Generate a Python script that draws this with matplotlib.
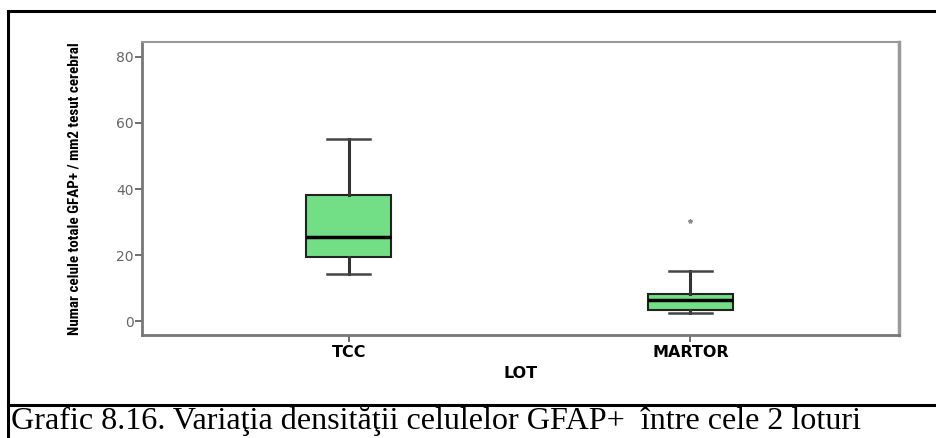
import matplotlib
matplotlib.use("Agg")
import matplotlib.pyplot as plt
from matplotlib.lines import Line2D

# Box statistics
groups = ["TCC", "MARTOR"]
medians = [25.5, 6.4]
q1 = [19.4, 3.3]
q3 = [38.2, 8.2]
whis_lo = [14.2, 2.4]
whis_hi = [55.0, 15.2]
outliers = [[], [30.3]]

y_ticks = [0, 20, 40, 60, 80]
box_color = "#72de85"
narrow = ["Roboto Condensed", "PT Sans Narrow", "Archivo Narrow", "DejaVu Sans"]

stats = []
for i, name in enumerate(groups):
    stats.append({
        "label": name,
        "med": medians[i],
        "q1": q1[i],
        "q3": q3[i],
        "whislo": whis_lo[i],
        "whishi": whis_hi[i],
        "fliers": outliers[i],
    })

fig = plt.figure(figsize=(9.37, 4.38), dpi=100)
ax = fig.add_axes([0.1515, 0.2352, 0.8079, 0.6688])

ax.bxp(stats, positions=[1, 2], widths=0.25, patch_artist=True,
       boxprops=dict(facecolor=box_color, edgecolor="#222222", linewidth=1.5),
       medianprops=dict(color="black", linewidth=2.5),
       whiskerprops=dict(color="#333333", linewidth=2.2),
       capprops=dict(color="#444444", linewidth=1.8),
       flierprops=dict(marker="*", markersize=3, markerfacecolor="#888888",
                       markeredgecolor="#888888"))

ax.set_xlim(0.395, 2.61)
ax.set_ylim(-4.2, 84.5)
ax.set_yticks(y_ticks)
ax.set_xticks([1, 2])
ax.set_xticklabels(groups, fontsize=11.5, fontweight="bold", family="DejaVu Sans")
for lab in ax.get_yticklabels():
    lab.set_fontsize(10)
    lab.set_color("#666666")
    lab.set_family("DejaVu Sans")
ax.tick_params(axis="both", direction="out", length=5, width=1.2, color="#555555")
ax.tick_params(axis="y", pad=1)
ax.tick_params(axis="x", pad=2)

for side in ["left", "bottom"]:
    ax.spines[side].set_color("#777777")
    ax.spines[side].set_linewidth(2)
ax.spines["top"].set_color("#999999")
ax.spines["top"].set_linewidth(1.5)
ax.spines["right"].set_color("#999999")
ax.spines["right"].set_linewidth(2.5)

ax.set_xlabel("LOT", fontsize=11.5, fontweight="bold", family="DejaVu Sans")
ax.xaxis.set_label_coords(0.5, -0.107)
ax.set_ylabel("Numar celule totale GFAP+ / mm2 tesut cerebral", fontsize=10.9,
              fontweight="bold", family=narrow)
ax.yaxis.set_label_coords(-0.08, 0.5)

# frame around figure and caption
fig.add_artist(Line2D([8 / 937, 1], [1 - 10.5 / 438, 1 - 10.5 / 438], color="black", lw=2.2))
fig.add_artist(Line2D([8 / 937, 8 / 937], [0, 1 - 10.5 / 438], color="black", lw=2.2))
fig.add_artist(Line2D([8 / 937, 1], [1 - 405 / 438, 1 - 405 / 438], color="black", lw=2.2))

fig.text(11 / 937, 1 - 421 / 438, "Grafic 8.16. Variaţia densităţii celulelor GFAP+  între cele 2 loturi",
         fontsize=23.1, family="Liberation Serif", va="center", ha="left")

fig.savefig("out.png", dpi=100)
